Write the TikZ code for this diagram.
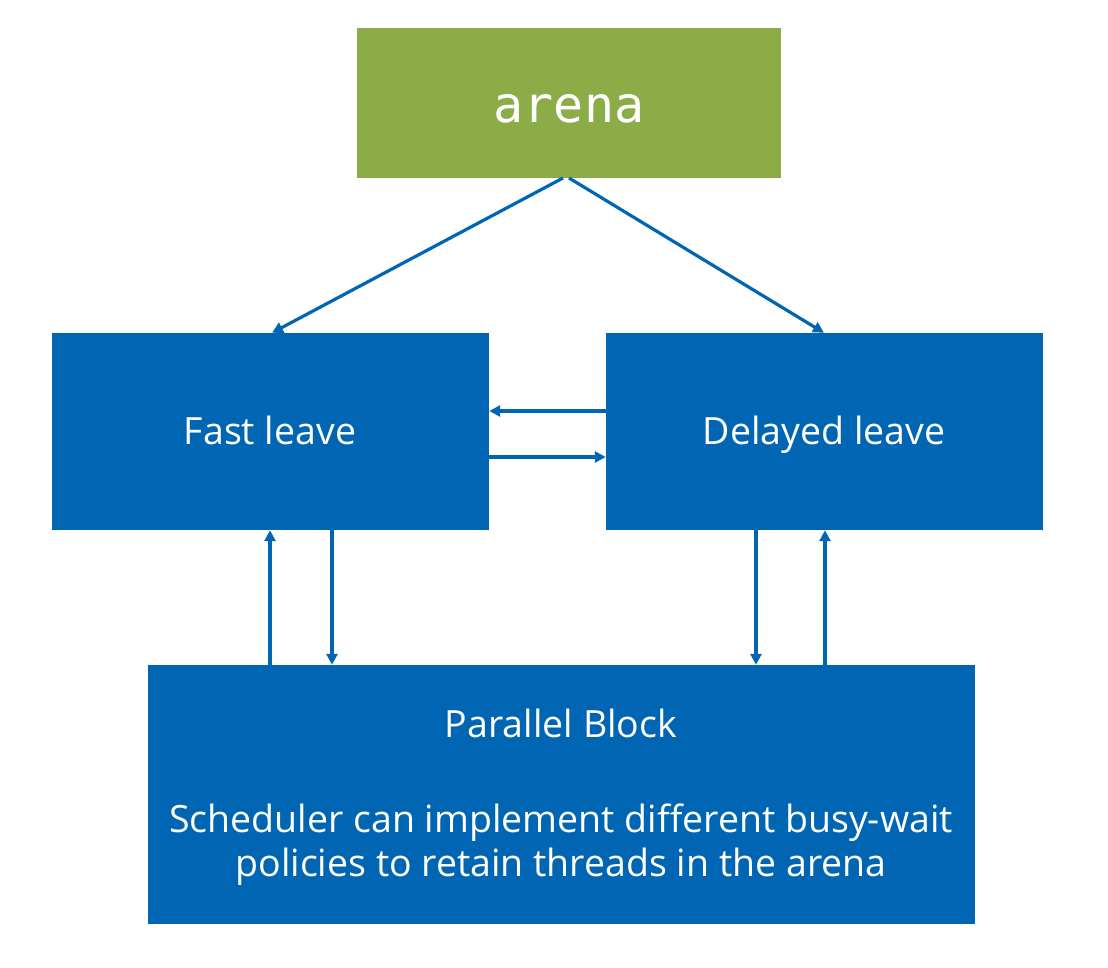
\documentclass[tikz,border=0pt]{standalone}
\usepackage{fontspec}
\setmainfont{Open Sans}
\newfontfamily\monofam{DejaVu Sans Mono}
\usetikzlibrary{arrows.meta}
\definecolor{boxblue}{HTML}{0066B3}
\definecolor{boxgreen}{HTML}{8BAC46}
\tikzset{
  blk/.style={fill=boxblue, draw=none, inner sep=0pt},
  lbl/.style={text=white, font=\fontsize{37.5}{44}\selectfont, align=center, anchor=base, inner sep=0pt},
  conn/.style={draw=boxblue, line width=3.2pt, -{Triangle[length=11pt,width=11pt]}},
}
\begin{document}
\begin{tikzpicture}[x=1pt,y=-1pt]
\useasboundingbox (0,0) rectangle (1108,967);
\node[fill=boxgreen, minimum width=424pt, minimum height=150pt, inner sep=0pt, draw=none] (arena) at (569,103) {};
\node[text=white, font=\monofam\fontsize{50}{50}\selectfont, anchor=base] (arenat) at (569,122) {arena};
\node[blk, minimum width=437pt, minimum height=197pt] (fast) at (270.5,431.5) {};
\node[blk, minimum width=437pt, minimum height=197pt] (delayed) at (824.5,431.5) {};
\node[lbl] (fastt) at (270,444) {Fast leave};
\node[lbl] (delt) at (824,444) {Delayed leave};
\node[blk, minimum width=827pt, minimum height=259pt] (par) at (561.5,794.5) {};
\node[lbl] (ptitle) at (561,737) {Parallel Block};
\node[lbl] (ptext) at (561,876) {Scheduler can implement different busy-wait\\policies to retain threads in the arena};
\coordinate (a1) at (563,178);
\coordinate (a2) at (569,178);
\draw[conn] (a1) -- (fast.north -| 272,0);
\draw[conn] (a2) -- (delayed.north -| 824,0);
\draw[conn] (delayed.west |- 0,411) -- (fast.east |- 0,411);
\draw[conn] (fast.east |- 0,457) -- (delayed.west |- 0,457);
\draw[conn] (par.north -| 270,0) -- (fast.south -| 270,0);
\draw[conn] (fast.south -| 332,0) -- (par.north -| 332,0);
\draw[conn] (delayed.south -| 756,0) -- (par.north -| 756,0);
\draw[conn] (par.north -| 825,0) -- (delayed.south -| 825,0);
\end{tikzpicture}
\end{document}
